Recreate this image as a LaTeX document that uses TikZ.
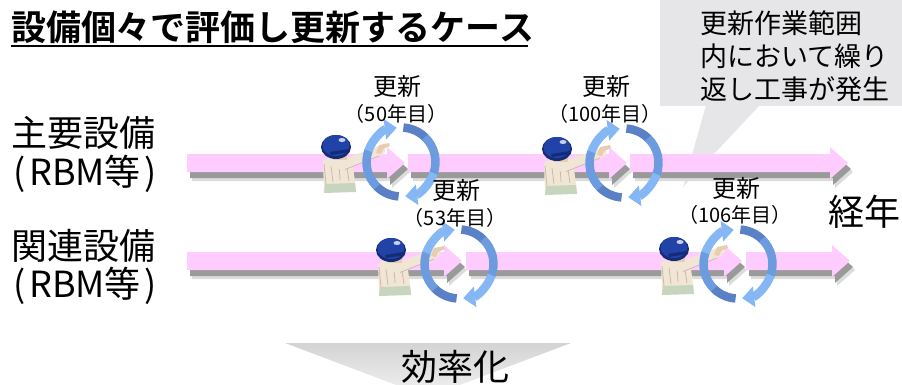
\documentclass[tikz,border=0pt]{standalone}
\usepackage{fontspec}
\setmainfont{Noto Sans CJK JP}[BoldFont={Noto Sans CJK JP Bold}]
\usetikzlibrary{arrows.meta}

\definecolor{pinkbar}{HTML}{FFCCFF}
\definecolor{shadowgray}{HTML}{9A9A9A}
\definecolor{ringdark}{HTML}{5A80C6}
\definecolor{ringmid}{HTML}{6C9BDF}
\definecolor{ringlight}{HTML}{86B7F5}
\definecolor{calloutgray}{HTML}{E6E6E8}
\definecolor{helmetblue}{HTML}{2143A8}
\definecolor{helmetdark}{HTML}{142C78}
\definecolor{shirt}{HTML}{F1E6D6}
\definecolor{shirtfold}{HTML}{C9BBA8}
\definecolor{skin}{HTML}{E9CDB0}
\definecolor{pants}{HTML}{C7D5BE}

\tikzset{
  lbl/.style={inner sep=0pt, outer sep=0pt, text=black},
  bigtxt/.style={lbl, font=\fontsize{36}{40}\selectfont},
  renew/.style={lbl, font=\fontsize{24}{26}\selectfont},
  yeartxt/.style={lbl, font=\fontsize{20}{22}\selectfont\addfontfeature{RawFeature=+halt}},
  calltxt/.style={lbl, anchor=west, font=\fontsize{27}{30}\selectfont},
  ringarc/.style={line width=8.5pt, line cap=butt},
  ringtip/.style={-{Triangle[width=20pt,length=12pt]}},
}

% time bar segment: start x, tip x, centre y (page coordinates, y down)
\newcommand{\timebar}[3]{%
  \foreach \dx/\dy/\col in {5/9/shadowgray!35, 3/6/shadowgray}{%
    \fill[\col] ({#1+\dx},{-#3+9-\dy}) -- ({#2-18+\dx},{-#3+9-\dy}) -- ({#2-18+\dx},{-#3+16-\dy})
      -- ({#2+\dx},{-#3-\dy}) -- ({#2-18+\dx},{-#3-16-\dy}) -- ({#2-18+\dx},{-#3-9-\dy})
      -- ({#1+\dx},{-#3-9-\dy}) -- cycle;}
  \fill[pinkbar] (#1,{-#3+9}) -- ({#2-18},{-#3+9}) -- ({#2-18},{-#3+16}) -- (#2,-#3)
    -- ({#2-18},{-#3-16}) -- ({#2-18},{-#3-9}) -- (#1,{-#3-9}) -- cycle;
}

% worker pointing to the right, top-left corner at (x,y)
\newcommand{\worker}[2]{%
  \begin{scope}[shift={(#1,-#2)}, yscale=-1]
    % body
    \fill[shirt] (2,27) .. controls (8,21) and (22,21) .. (31,25) -- (35,56) -- (3,58) -- cycle;
    \fill[pants] (4,50) -- (34,49) -- (35,58) -- (3,59) -- cycle;
    \draw[shirtfold, line width=0.8pt] (3,30) -- (5,50) (10,32) -- (12,48) (18,31) -- (19,46) (26,34) -- (28,47);
    % arm
    \draw[shirt, line width=9pt, line cap=round] (20,31) -- (60,16);
    \draw[shirtfold, line width=0.7pt] (24,35.5) -- (58,22);
    \fill[skin] (58,11) -- (68,9) -- (69,12) -- (62,15) -- (60,20) -- (55,19) -- cycle;
    % face and helmet
    \fill[skin] (12,13) rectangle (26,26);
    \fill[black!65] (11,13) rectangle (17,23);
    \fill[helmetdark] (15,13) ellipse (15 and 12);
    \fill[helmetblue] (15,11.5) ellipse (13.5 and 10.5);
    \fill[white!75!helmetblue] (21,6) ellipse (3.5 and 2);
    \fill[helmetdark] (9,18) -- (28,15) -- (29,18) -- (10,21) -- cycle;
  \end{scope}
}

% renewal cycle: two curved arrows round (x,y)
\newcommand{\cycle}[2]{%
  \draw[ringarc, ringdark]  (#1,-#2) ++(266:34.5) arc[start angle=266, end angle=225, radius=34.5];
  \draw[ringarc, ringmid]   (#1,-#2) ++(226:34.5) arc[start angle=226, end angle=160, radius=34.5];
  \draw[ringarc, ringlight, ringtip] (#1,-#2) ++(161:34.5) arc[start angle=161, end angle=97, radius=34.5];
  \draw[ringarc, ringdark]  (#1,-#2) ++(86:34.5) arc[start angle=86, end angle=45, radius=34.5];
  \draw[ringarc, ringmid]   (#1,-#2) ++(46:34.5) arc[start angle=46, end angle=-20, radius=34.5];
  \draw[ringarc, ringlight, ringtip] (#1,-#2) ++(-19:34.5) arc[start angle=-19, end angle=-83, radius=34.5];
}

\begin{document}
\begin{tikzpicture}[x=1pt, y=1pt]
  \useasboundingbox (0,0) rectangle (902,-384);

  % heading
  \node[lbl, anchor=west, font=\fontsize{35}{39}\selectfont\bfseries] (title) at (11,-27)
    {設備個々で評価し更新するケース};
  \draw[line width=2.6pt] (11,-46) -- (528,-46);

  % row labels
  \node[bigtxt, anchor=west] (main1) at (12,-133) {主要設備};
  \node[bigtxt, anchor=west] (main2) at (13,-174) {(\kern4pt RBM等\kern4pt)};
  \node[bigtxt, anchor=west] (rel1) at (12,-246) {関連設備};
  \node[bigtxt, anchor=west] (rel2) at (13,-286) {(\kern4pt RBM等\kern4pt)};

  % callout
  \fill[calloutgray] (660,0) rectangle (902,-106);
  \fill[calloutgray] (706,-105) -- (760,-105) -- (683,-187) -- cycle;
  \node[calltxt] (call1) at (700,-23) {更新作業範囲};
  \node[calltxt] (call2) at (700,-56) {内において繰り};
  \node[calltxt] (call3) at (700,-89) {返し工事が発生};

  % time bars
  \timebar{187}{405}{163}
  \timebar{408}{627}{163}
  \timebar{630}{848}{163}
  \timebar{187}{462}{261}
  \timebar{466}{742}{261}
  \timebar{746}{850}{261}

  % workers and renewal cycles
  \worker{321}{134}
  \worker{542}{136}
  \worker{376}{237}
  \worker{659}{236}
  \cycle{401}{162}
  \cycle{624}{163}
  \cycle{459}{264}
  \cycle{738}{264}

  % renewal labels
  \node[renew] (r1a) at (397,-86) {更新};
  \node[yeartxt] (r1b) at (396,-114) {（50年目）};
  \node[renew] (r2a) at (606,-86) {更新};
  \node[yeartxt] (r2b) at (605,-114) {（100年目）};
  \node[renew] (r3a) at (456,-190) {更新};
  \node[yeartxt] (r3b) at (455,-218) {（53年目）};
  \node[renew] (r4a) at (736,-188) {更新};
  \node[yeartxt] (r4b) at (735,-215) {（106年目）};

  \node[bigtxt] (age) at (864,-212) {経年};

  % efficiency arrow
  \shade[top color=black!17, bottom color=black!5] (285,-343) -- (571,-343) -- (428,-397) -- cycle;
  \node[bigtxt] (eff) at (455,-367) {効率化};
\end{tikzpicture}
\end{document}
